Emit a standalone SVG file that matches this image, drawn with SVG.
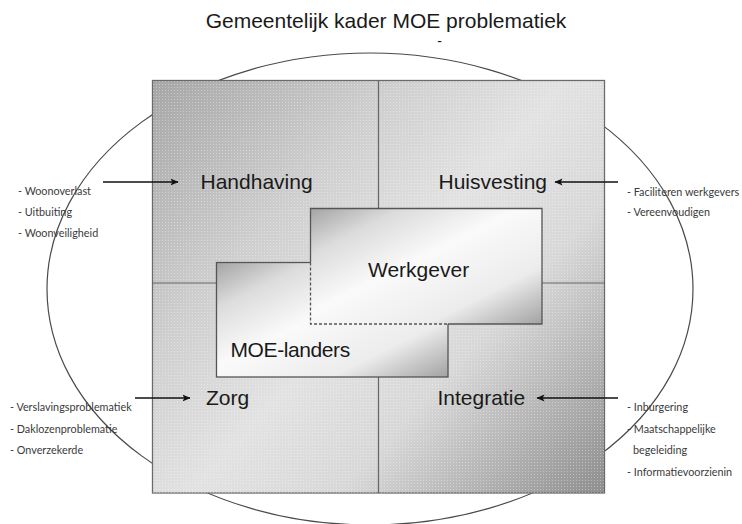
<svg xmlns="http://www.w3.org/2000/svg" width="742" height="524" viewBox="0 0 742 524">
<style>
.title{font-family:"Liberation Sans",Arial,sans-serif;font-size:21px;fill:#1a1a1a}
.lbl{font-family:"Liberation Sans",Arial,sans-serif;font-size:21px;fill:#1a1a1a}
.side{font-family:Lato,"Open Sans",sans-serif;font-size:10.8px;fill:#3a3a3a}
.frame{fill:none;stroke:#4a4a4a;stroke-width:1.2}
.div{stroke:#666;stroke-width:1.2;fill:none}
.box{stroke:#555;stroke-width:1.3}
.edge{stroke:#555;stroke-width:1.3;fill:none}
.dash{stroke:#555;stroke-width:1.3;fill:none;stroke-dasharray:3 2}
.arrow{stroke:#111;stroke-width:1.6;fill:none;marker-end:url(#ah)}
</style>
<defs>
<marker id="ah" markerUnits="userSpaceOnUse" markerWidth="9" markerHeight="8" refX="7.5" refY="4" orient="auto">
<path d="M0,0.5 L8,4 L0,7.5 L1.8,4 z" fill="#111"/>
</marker>
<linearGradient id="sq" gradientUnits="userSpaceOnUse" x1="152" y1="80" x2="605" y2="493">
<stop offset="0" stop-color="#a6a6a6"/>
<stop offset="0.3" stop-color="#cfcfcf"/>
<stop offset="0.5" stop-color="#e2e2e2"/>
<stop offset="0.68" stop-color="#d8d8d8"/>
<stop offset="1" stop-color="#8e8e8e"/>
</linearGradient>
<linearGradient id="bx" x1="0" y1="0" x2="1" y2="1">
<stop offset="0" stop-color="#a4a4a4"/>
<stop offset="0.2" stop-color="#dcdcdc"/>
<stop offset="0.45" stop-color="#fafafa"/>
<stop offset="0.75" stop-color="#ececec"/>
<stop offset="1" stop-color="#a2a2a2"/>
</linearGradient>
<pattern id="dots" width="3" height="3" patternUnits="userSpaceOnUse">
<rect x="0" y="0" width="1" height="1" fill="#ffffff" opacity="0.35"/>
</pattern>
</defs>

<g id="title">
<text class="title" x="386" y="28" text-anchor="middle">Gemeentelijk kader MOE problematiek</text>
<text class="title" x="439.5" y="46" text-anchor="middle" style="font-size:14px">-</text>
</g>

<g id="gemeente-kader">
<ellipse class="frame" cx="370" cy="289" rx="323" ry="236"/>
<rect x="152.5" y="80.5" width="452" height="412.5" fill="url(#sq)" stroke="#6a6a6a" stroke-width="1.3"/>
<rect x="152.5" y="80.5" width="452" height="412.5" fill="url(#dots)"/>
<line class="div" x1="378.5" y1="80.5" x2="378.5" y2="493"/>
<line class="div" x1="152.5" y1="283" x2="604.5" y2="283"/>
</g>

<g id="handhaving"><text class="lbl" x="200.5" y="189">Handhaving</text></g>
<g id="huisvesting"><text class="lbl" x="438.5" y="189">Huisvesting</text></g>
<g id="zorg"><text class="lbl" x="206" y="405">Zorg</text></g>
<g id="integratie"><text class="lbl" x="437.5" y="405">Integratie</text></g>

<g id="moe-landers">
<rect class="box" x="216.5" y="262.5" width="231.5" height="114.5" fill="url(#bx)"/>
<text class="lbl" x="230.5" y="357" style="letter-spacing:-0.4px">MOE-landers</text>
</g>

<g id="werkgever">
<rect x="310.5" y="208.5" width="231.5" height="115.5" fill="url(#bx)"/>
<path class="edge" d="M310.5,262.5 V208.5 H542 V324 H448"/>
<path class="dash" d="M310.5,262.5 V324 H448"/>
<text class="lbl" x="368" y="277">Werkgever</text>
</g>

<g id="connectors">
<line class="arrow" x1="103" y1="182" x2="178" y2="182"/>
<line class="arrow" x1="618" y1="182" x2="555" y2="182"/>
<line class="arrow" x1="135" y1="398" x2="190" y2="398"/>
<line class="arrow" x1="618" y1="398" x2="537" y2="398"/>
</g>

<g id="lijst-handhaving">
<text class="side" x="18" y="195">- Woonoverlast</text>
<text class="side" x="18" y="216">- Uitbuiting</text>
<text class="side" x="18" y="237">- Woonveiligheid</text>
</g>
<g id="lijst-huisvesting">
<text class="side" x="627" y="196">- Faciliteren werkgevers</text>
<text class="side" x="627" y="216">- Vereenvoudigen</text>
</g>
<g id="lijst-zorg">
<text class="side" x="10" y="411">- Verslavingsproblematiek</text>
<text class="side" x="10" y="433">- Daklozenproblematie</text>
<text class="side" x="10" y="454">- Onverzekerde</text>
</g>
<g id="lijst-integratie">
<text class="side" x="627" y="411">- Inburgering</text>
<text class="side" x="627" y="433">- Maatschappelijke</text>
<text class="side" x="633" y="454">begeleiding</text>
<text class="side" x="627" y="476">- Informatievoorzienin</text>
</g>
</svg>
